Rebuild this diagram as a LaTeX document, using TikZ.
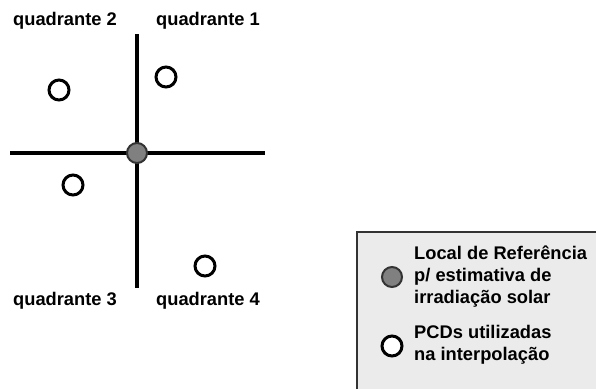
\documentclass[tikz,border=0pt]{standalone}
\usepackage{fontspec}
\setmainfont{Liberation Sans}
\begin{document}
\begin{tikzpicture}[x=1pt,y=-1pt,
  lbl/.style={font=\fontsize{18.3}{21}\selectfont\bfseries, inner sep=0pt},
  pcd/.style={circle, draw=black, line width=3pt, fill=white, minimum size=20pt, inner sep=0pt},
  ref/.style={circle, draw=black!80, line width=2pt, fill=black!50, minimum size=20pt, inner sep=0pt},
  axis/.style={line width=3.2pt, black}]
\useasboundingbox (0,0) rectangle (596,389);
% legend box
\fill[black!8] (357,232) rectangle (596,389);
\draw[black!80, line width=1.8pt] (357,389) -- (357,232) -- (596,232);
% axes
\coordinate (vt) at (137,34);
\coordinate (vb) at (137,288);
\coordinate (hl) at (10,153);
\coordinate (hr) at (265,153);
\draw[axis] (vt) -- (vb);
\draw[axis] (hl) -- (hr);
\node[ref] (c) at (137,153) {};
% stations
\node[pcd] (p1) at (166,77) {};
\node[pcd] (p2) at (59,90) {};
\node[pcd] (p3) at (73,185) {};
\node[pcd] (p4) at (205,266) {};
% labels
\node[lbl] (q2) at (65,21) {quadrante 2};
\node[lbl] (q1) at (208,21) {quadrante 1};
\node[lbl] (q3) at (65,301) {quadrante 3};
\node[lbl] (q4) at (208,301) {quadrante 4};
% legend
\node[ref] (lr) at (392,277) {};
\node[pcd] (lp) at (392,346) {};
\node[lbl, anchor=west, align=left, font=\fontsize{18.3}{22}\selectfont\bfseries] (lt1) at (414,277) {Local de Referência\\p/ estimativa de\\irradiação solar};
\node[lbl, anchor=west, align=left, font=\fontsize{18.3}{22}\selectfont\bfseries] (lt2) at (414,345) {PCDs utilizadas\\na interpolação};
\end{tikzpicture}
\end{document}
